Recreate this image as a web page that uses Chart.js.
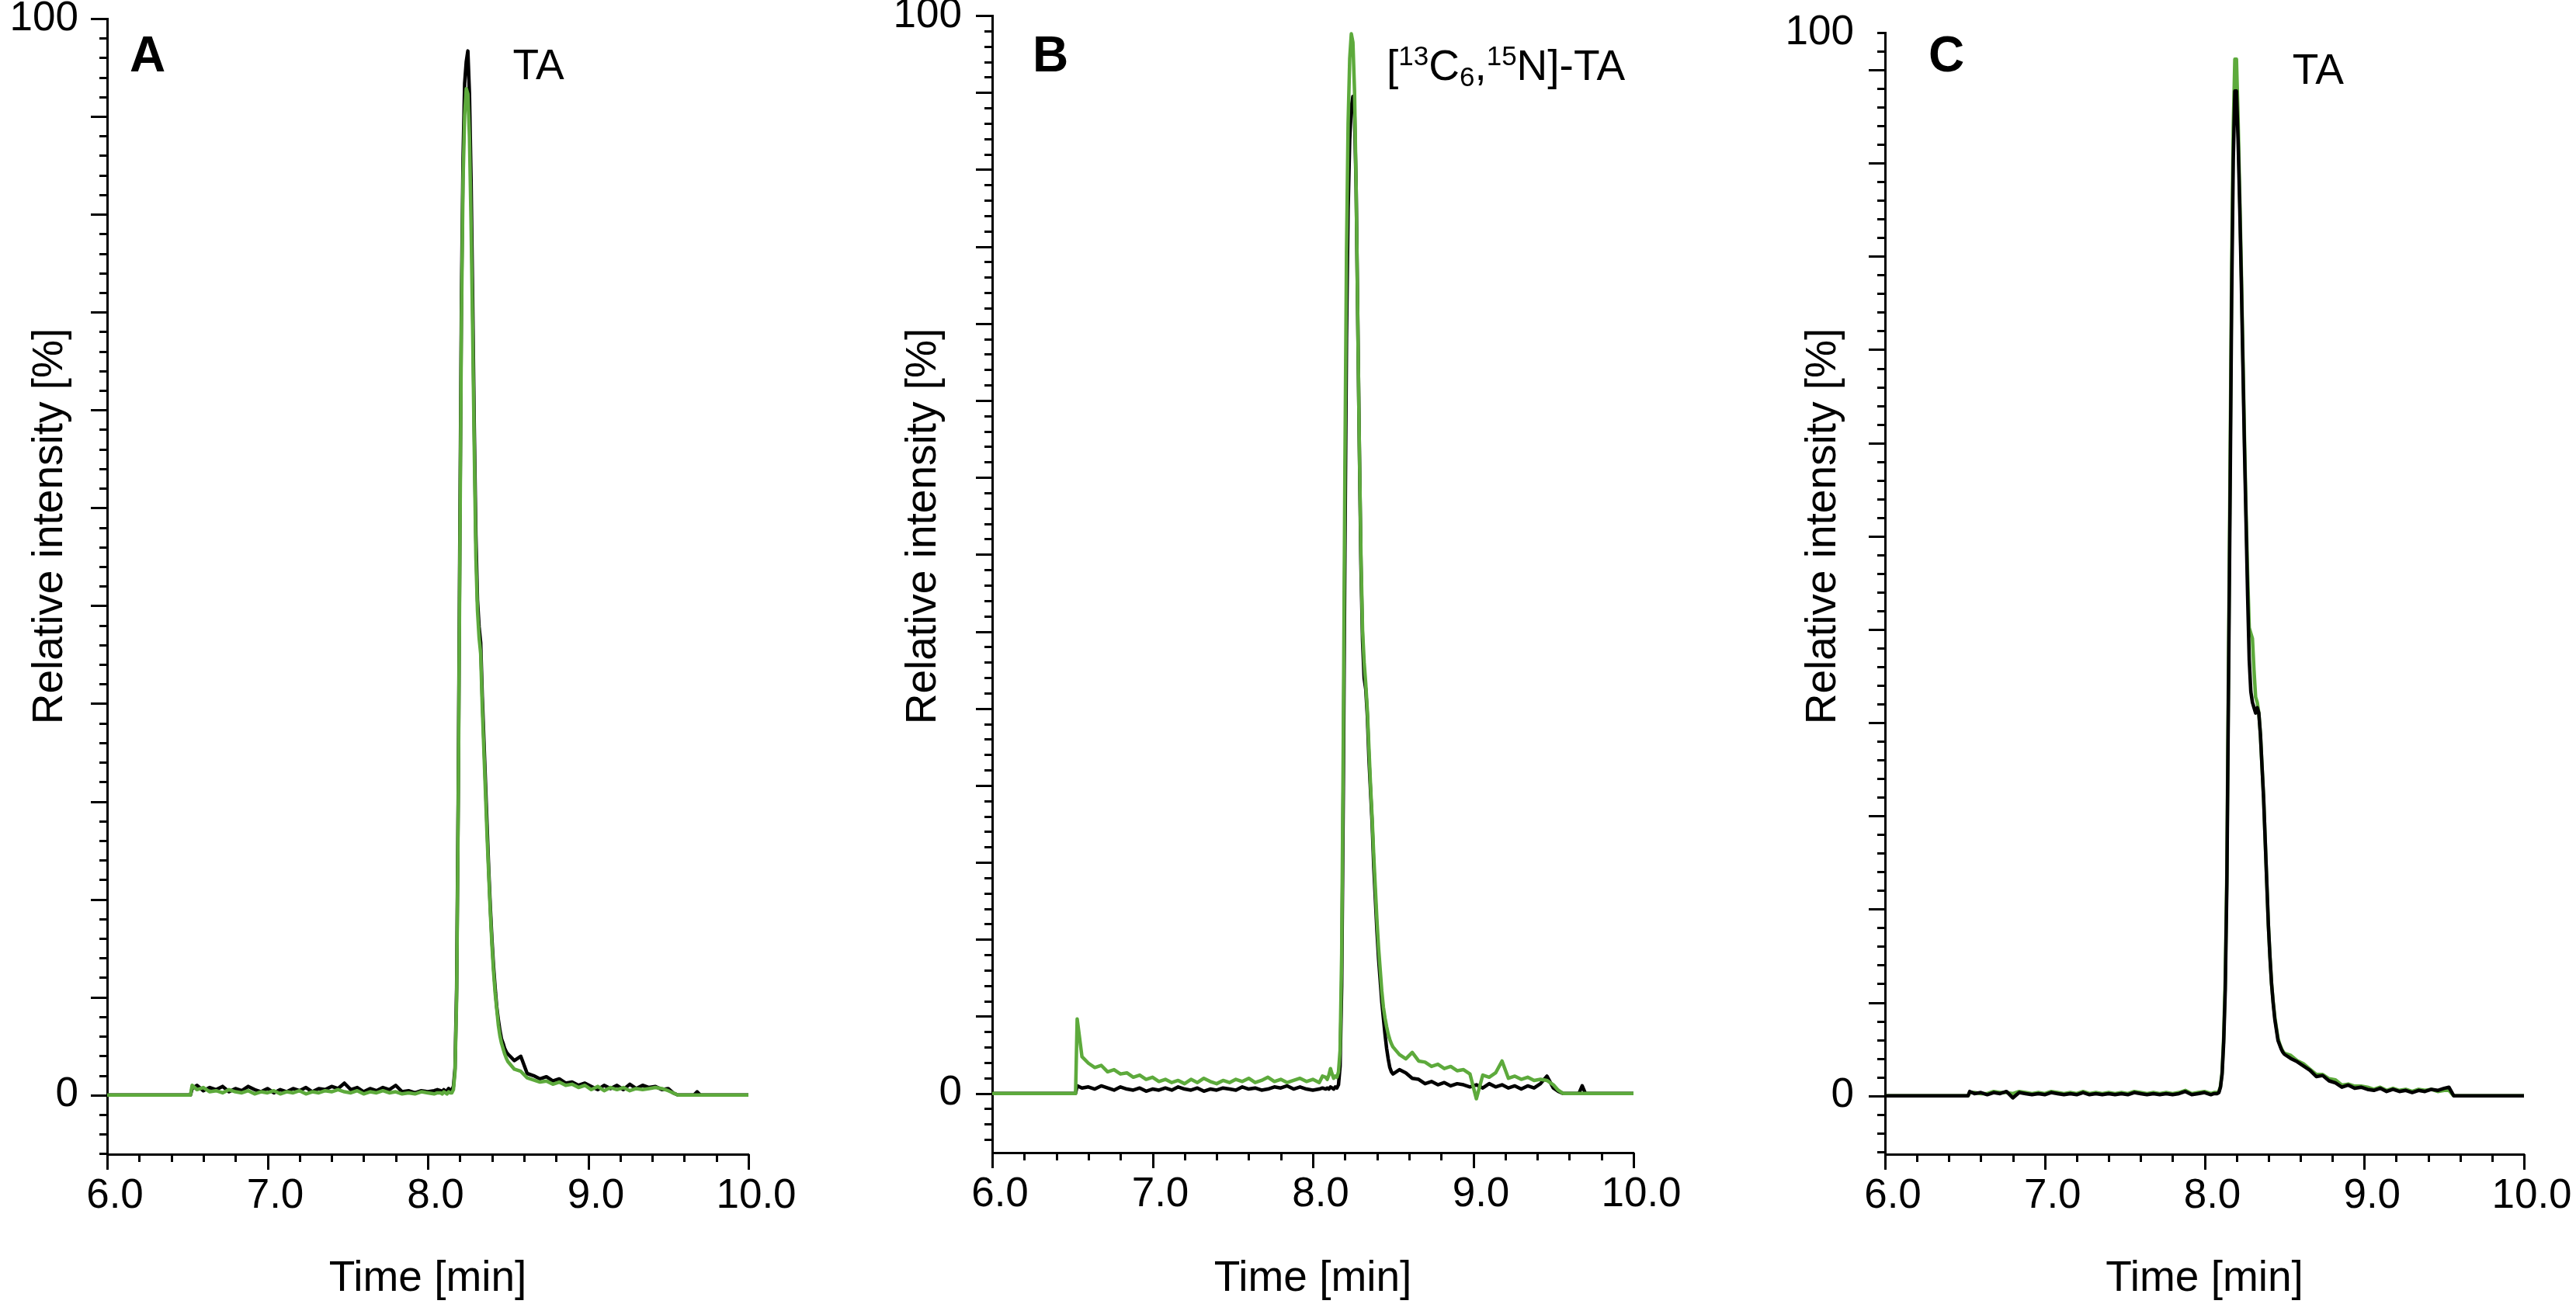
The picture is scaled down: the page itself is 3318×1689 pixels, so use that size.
<!DOCTYPE html>
<html>
<head>
<meta charset="utf-8">
<title>TA chromatograms</title>
<script src="https://cdn.jsdelivr.net/npm/chart.js@4.4.1/dist/chart.umd.min.js"></script>
<style>
  html, body { margin:0; padding:0; background:#fff; }
  #wrap { position:relative; width:3318px; height:1689px; overflow:hidden; }
  #wrap canvas { position:absolute; top:0; }
</style>
</head>
<body>
<div id="wrap">
  <canvas id="chA" width="1024" height="1689" style="left:0px"></canvas>
  <canvas id="chB" width="1024" height="1689" style="left:1140px"></canvas>
  <canvas id="chC" width="1024" height="1689" style="left:2290px"></canvas>
</div>
<script>
// ---------- data (time in min, intensity in %) ----------
const time = [
  6.0, 6.52,
  6.53, 6.56, 6.60, 6.64, 6.68, 6.72, 6.76, 6.80, 6.84, 6.88, 6.92, 6.96, 7.00, 7.04, 7.08, 7.12, 7.16, 7.20, 7.24, 7.28,
  7.32, 7.36, 7.40, 7.44, 7.48, 7.52, 7.56, 7.60, 7.64, 7.68, 7.72, 7.76, 7.80, 7.84, 7.88, 7.92, 7.96, 8.00, 8.04, 8.06,
  8.08, 8.09, 8.10, 8.11, 8.12, 8.13, 8.14, 8.15, 8.16, 8.17, 8.18, 8.19, 8.20, 8.21, 8.22, 8.23, 8.24, 8.25, 8.26, 8.27,
  8.28, 8.29, 8.30, 8.31, 8.32, 8.33, 8.34, 8.35, 8.36, 8.37, 8.38, 8.39, 8.40, 8.41, 8.42, 8.43, 8.44, 8.45, 8.46, 8.47,
  8.48, 8.49, 8.50,
  8.54, 8.58, 8.62, 8.66, 8.70, 8.74, 8.78, 8.82, 8.86, 8.90, 8.94, 8.98, 9.02, 9.06, 9.10, 9.14, 9.18, 9.22, 9.26, 9.30,
  9.34, 9.38, 9.42, 9.46, 9.50,
  9.53, 9.56, 9.66, 9.68, 9.70, 10.0
];

// panel A: TA
const aBlack = [
  0, 0,
  0.6, 0.9, 0.4, 0.7, 0.5, 0.8, 0.3, 0.6, 0.4, 0.8, 0.5, 0.3, 0.6, 0.2, 0.5, 0.3, 0.6, 0.4, 0.7, 0.3,
  0.6, 0.5, 0.8, 0.6, 1.1, 0.5, 0.7, 0.3, 0.6, 0.4, 0.7, 0.5, 0.9, 0.3, 0.4, 0.2, 0.4, 0.3, 0.4, 0.5,
  0.4, 0.3, 0.5, 0.3, 0.4, 0.6, 0.4, 0.5, 0.8, 2.5, 10, 28, 52, 74, 87, 94, 96, 97, 93, 85,
  74, 62, 52, 46, 43.5, 42, 37, 33, 29, 25, 21, 17.5, 14.5, 12, 10, 8.2, 7, 6, 5.2, 4.8,
  4.3, 4.0, 3.8,
  3.2, 3.6, 2.0, 1.8, 1.5, 1.7, 1.3, 1.5, 1.1, 1.2, 0.9, 1.1, 0.8, 0.5, 0.9, 0.6, 0.9, 0.5, 1.0, 0.6,
  0.9, 0.7, 0.8, 0.5, 0.6,
  0.2, 0, 0, 0.3, 0, 0
];
const aGreen = [
  0, 0,
  0.9, 0.5, 0.7, 0.3, 0.4, 0.2, 0.5, 0.3, 0.2, 0.4, 0.1, 0.3, 0.2, 0.4, 0.1, 0.3, 0.2, 0.4, 0.1, 0.3,
  0.2, 0.4, 0.3, 0.5, 0.3, 0.2, 0.4, 0.1, 0.3, 0.2, 0.4, 0.2, 0.3, 0.1, 0.2, 0.1, 0.3, 0.2, 0.1, 0.2,
  0.2, 0.1, 0.3, 0.2, 0.1, 0.3, 0.2, 0.2, 0.5, 2.2, 9, 27, 50, 72, 85, 91, 93.5, 93, 89, 81,
  71, 60, 50, 45, 42.5, 41, 36, 32, 28, 24, 20.5, 17, 14, 11.5, 9.5, 8, 6.5, 5.5, 4.8, 4.3,
  3.8, 3.4, 3.1,
  2.4, 2.2, 1.6, 1.4, 1.2, 1.3, 1.0, 1.2, 0.9, 1.0, 0.7, 0.9, 0.5, 0.8, 0.4, 0.7, 0.5, 0.7, 0.4, 0.6,
  0.5, 0.6, 0.7, 0.6, 0.4,
  0.2, 0, 0, 0, 0, 0
];

// panel B: [13C6,15N]-TA
const bBlack = [
  0, 0,
  0.7, 0.5, 0.6, 0.4, 0.7, 0.5, 0.3, 0.6, 0.4, 0.3, 0.5, 0.2, 0.4, 0.3, 0.5, 0.3, 0.6, 0.4, 0.3, 0.5,
  0.2, 0.4, 0.3, 0.5, 0.4, 0.3, 0.6, 0.4, 0.5, 0.3, 0.4, 0.6, 0.5, 0.7, 0.4, 0.6, 0.4, 0.3, 0.4, 0.5,
  0.4, 0.5, 0.4, 0.6, 0.5, 0.4, 0.6, 0.5, 0.8, 2.5, 10, 28, 50, 70, 82, 88.5, 91.5, 92.5, 91, 84,
  72, 60, 49, 42, 38.5, 37.5, 35, 31, 28, 25, 21, 18, 15, 12.5, 10.5, 8.5, 7, 5.5, 4.2, 3.2,
  2.4, 2.0, 1.8,
  2.2, 1.9, 1.4, 1.3, 0.9, 1.1, 0.8, 1.0, 0.7, 0.9, 0.8, 0.6, 0.8, 0.5, 0.9, 0.6, 0.8, 0.5, 0.7, 0.4,
  0.7, 0.5, 0.9, 1.6, 0.5,
  0.2, 0, 0, 0.7, 0, 0
];
const bGreen = [
  0, 0,
  6.9, 3.4, 2.8, 2.4, 2.6, 2.0, 2.2, 1.8, 1.9, 1.5, 1.7, 1.3, 1.5, 1.1, 1.3, 1.0, 1.2, 0.9, 1.3, 1.0,
  1.4, 1.1, 0.9, 1.2, 1.0, 1.3, 1.1, 1.4, 1.0, 1.2, 1.5, 1.1, 1.3, 1.0, 1.2, 1.4, 1.1, 1.3, 1.0, 1.6,
  1.5, 1.3, 1.7, 2.3, 1.8, 1.4, 1.6, 1.5, 2.0, 4, 13, 33, 58, 78, 90, 96, 98.3, 97.5, 93, 84,
  72, 60, 50, 43, 40, 38, 35.5, 32, 28.5, 25.5, 22, 19, 16, 13.5, 11.5, 9.5, 8, 7, 6.2, 5.5,
  5.0, 4.6, 4.3,
  3.6, 3.2, 3.8, 3.0, 2.9, 2.5, 2.7, 2.3, 2.5, 2.1, 2.2, 1.8, -0.5, 1.7, 1.5, 1.9, 3.0, 1.4, 1.6, 1.3,
  1.5, 1.2, 1.3, 1.2, 0.8,
  0.3, 0, 0, 0, 0, 0
];

// panel C: TA
const cBlack = [
  0, 0,
  0.4, 0.2, 0.3, 0.1, 0.3, 0.2, 0.4, -0.2, 0.3, 0.2, 0.1, 0.2, 0.1, 0.3, 0.2, 0.1, 0.2, 0.1, 0.3, 0.1,
  0.2, 0.1, 0.2, 0.1, 0.2, 0.1, 0.3, 0.2, 0.1, 0.2, 0.1, 0.2, 0.1, 0.2, 0.4, 0.1, 0.2, 0.3, 0.1, 0.2,
  0.2, 0.3, 0.8, 2, 5, 10, 20, 38, 56, 75, 88, 94.5, 94.5, 90, 84, 77, 69, 61, 54, 47,
  41, 38, 37, 36.5, 36, 36.5, 36, 34, 31, 28, 24, 20, 16, 13, 10.5, 8.7, 7.2, 6.2, 5.2, 4.8,
  4.4, 4.1, 3.9,
  3.5, 3.2, 2.8, 2.4, 1.8, 1.9, 1.4, 1.2, 0.8, 1.0, 0.7, 0.8, 0.6, 0.5, 0.7, 0.4, 0.6, 0.4, 0.5, 0.3,
  0.5, 0.4, 0.6, 0.5, 0.7,
  0.8, 0, 0, 0, 0, 0
];
const cGreen = [
  0, 0,
  0.3, 0.3, 0.2, 0.2, 0.4, 0.3, 0.3, 0.2, 0.4, 0.3, 0.2, 0.3, 0.2, 0.4, 0.3, 0.2, 0.3, 0.2, 0.4, 0.2,
  0.3, 0.2, 0.3, 0.2, 0.3, 0.2, 0.4, 0.3, 0.2, 0.3, 0.2, 0.3, 0.2, 0.3, 0.5, 0.2, 0.3, 0.4, 0.2, 0.3,
  0.3, 0.4, 0.9, 2.2, 5.5, 11, 21, 40, 59, 78, 91, 97.5, 97.5, 92, 85, 78, 70, 62, 55, 49,
  44, 43.5, 43, 40, 37.5, 37, 36, 34, 31, 28, 24, 20, 16, 13, 10.5, 8.8, 7.4, 6.4, 5.4, 4.9,
  4.5, 4.2, 4.0,
  3.8, 3.3, 3.0, 2.5, 2.0, 2.0, 1.6, 1.5, 1.0, 1.1, 0.9, 0.9, 0.8, 0.6, 0.8, 0.5, 0.7, 0.5, 0.6, 0.4,
  0.6, 0.5, 0.6, 0.4, 0.5,
  0.5, 0, 0, 0, 0, 0
];

// axis ticks
const xLabels = [6, 7, 8, 9, 10];
const yLabels = [0, 100];
const X_MINOR = 0.2;
const Y_MIN = -5.5;

// ---------- look ----------
const FONT = '"Liberation Sans", Arial, Helvetica, sans-serif';
const GREEN = "#5DAA3C";
const BLACK = "#000000";
const LINE_W = 4.5;
Chart.defaults.font.family = FONT;
Chart.defaults.color = "#000";

const panels = [
  { id:"chA", letter:"A", black:aBlack, green:aGreen, greenOnTop:true,
    top:24, xh:202, right:60, yMinorPer100:55, yPad:37, letterDx:29, titleDx:-73,
    label:[{t:"TA"}], lx:8.53, ly:94.4 },
  { id:"chB", letter:"B", black:bBlack, green:bGreen, greenOnTop:true,
    top:20, xh:204, right:60, yMinorPer100:70, yPad:39, letterDx:52, titleDx:-88,
    label:[{t:"["},{t:"13",s:"sup"},{t:"C"},{t:"6",s:"sub"},{t:","},{t:"15",s:"sup"},{t:"N]-TA"}], lx:8.46, ly:94.0 },
  { id:"chC", letter:"C", black:cBlack, green:cGreen, greenOnTop:false,
    top:42, xh:202, right:63, yMinorPer100:57, yPad:40, letterDx:56, titleDx:-79,
    label:[{t:"TA"}], lx:8.55, ly:95.2 }
];

// ticks, panel letter, rotated y title and the peak label
const chromDecor = {
  id: "chromDecor",
  afterDraw(chart, args, o){
    const {ctx, chartArea:ca, scales:{x, y}} = chart;
    ctx.save();
    ctx.strokeStyle = "#000"; ctx.lineWidth = 3; ctx.lineCap = "butt";
    ctx.beginPath();
    const nx = Math.round((x.max - x.min) / X_MINOR);
    for(let k = 0; k <= nx; k++){
      const px = Math.round(x.getPixelForValue(x.min + k*X_MINOR)) + 0.5;
      const len = k % 5 === 0 ? 20 : 10;
      ctx.moveTo(px, ca.bottom); ctx.lineTo(px, ca.bottom + len);
    }
    const step = 100 / o.yMinorPer100;
    for(let k = Math.ceil(Y_MIN/step); k*step <= 100 + 1e-6; k++){
      const py = Math.round(y.getPixelForValue(k*step)) + 0.5;
      const len = k % 5 === 0 ? 21 : 10;
      ctx.moveTo(ca.left, py); ctx.lineTo(ca.left - len, py);
    }
    ctx.stroke();

    ctx.fillStyle = "#000";
    ctx.textBaseline = "alphabetic";
    ctx.textAlign = "left";
    ctx.font = "bold 64px " + FONT;
    ctx.fillText(o.letter, ca.left + o.letterDx, 92);

    // peak label with super/subscripts
    let lx = x.getPixelForValue(o.lx);
    const ly = y.getPixelForValue(o.ly);
    o.label.forEach(seg => {
      const small = seg.s === "sup" || seg.s === "sub";
      ctx.font = (small ? 35 : 55) + "px " + FONT;
      const dy = seg.s === "sup" ? -19 : seg.s === "sub" ? 8 : 0;
      ctx.fillText(seg.t, lx, ly + dy);
      lx += ctx.measureText(seg.t).width;
    });

    ctx.translate(ca.left + o.titleDx, 678);
    ctx.rotate(-Math.PI/2);
    ctx.textAlign = "center"; ctx.textBaseline = "middle";
    ctx.font = "55px " + FONT;
    ctx.fillText("Relative intensity [%]", 0, 0);
    ctx.restore();
  }
};

panels.forEach(p => {
  const pts = arr => time.map((t, i) => ({x:t, y:arr[i]}));
  const dsBlack = { label:"black", data:pts(p.black), borderColor:BLACK, borderWidth:LINE_W };
  const dsGreen = { label:"green", data:pts(p.green), borderColor:GREEN, borderWidth:LINE_W };
  new Chart(document.getElementById(p.id), {
    type: "line",
    data: { datasets: p.greenOnTop ? [dsGreen, dsBlack] : [dsBlack, dsGreen] },
    options: {
      responsive:false, animation:false, devicePixelRatio:1,
      layout:{ autoPadding:false, padding:{ top:p.top, left:0, right:p.right, bottom:0 } },
      elements:{ point:{ radius:0 }, line:{ tension:0, fill:false, borderJoinStyle:"round", borderCapStyle:"round" } },
      plugins:{
        legend:{ display:false }, tooltip:{ enabled:false },
        chromDecor:{ letter:p.letter, yMinorPer100:p.yMinorPer100, letterDx:p.letterDx,
          titleDx:p.titleDx, label:p.label, lx:p.lx, ly:p.ly }
      },
      scales:{
        x:{
          type:"linear", min:6, max:10,
          // fixed box: no extra room reserved for the end labels
          afterFit: s => { s.height = p.xh; s.paddingLeft = 0; s.paddingRight = 0; },
          afterBuildTicks: s => { s.ticks = xLabels.map(v => ({value:v})); },
          grid:{ display:false, drawTicks:false },
          border:{ display:true, color:"#000", width:3 },
          ticks:{ font:{size:53}, color:"#000", padding:23, labelOffset:10, maxRotation:0, autoSkip:false,
            callback: v => Number(v).toFixed(1) },
          title:{ display:true, text:"Time [min]", font:{size:55}, color:"#000", padding:{top:0, bottom:8} }
        },
        y:{
          type:"linear", min:Y_MIN, max:100,
          afterFit: s => { s.width = 138; s.paddingTop = 0; s.paddingBottom = 0; },
          afterBuildTicks: s => { s.ticks = yLabels.map(v => ({value:v})); },
          grid:{ display:false, drawTicks:false },
          border:{ display:true, color:"#000", width:3 },
          ticks:{ font:{size:53}, color:"#000", padding:p.yPad, autoSkip:false, callback: v => String(v) }
        }
      }
    },
    plugins:[chromDecor]
  });
});
</script>
</body>
</html>
